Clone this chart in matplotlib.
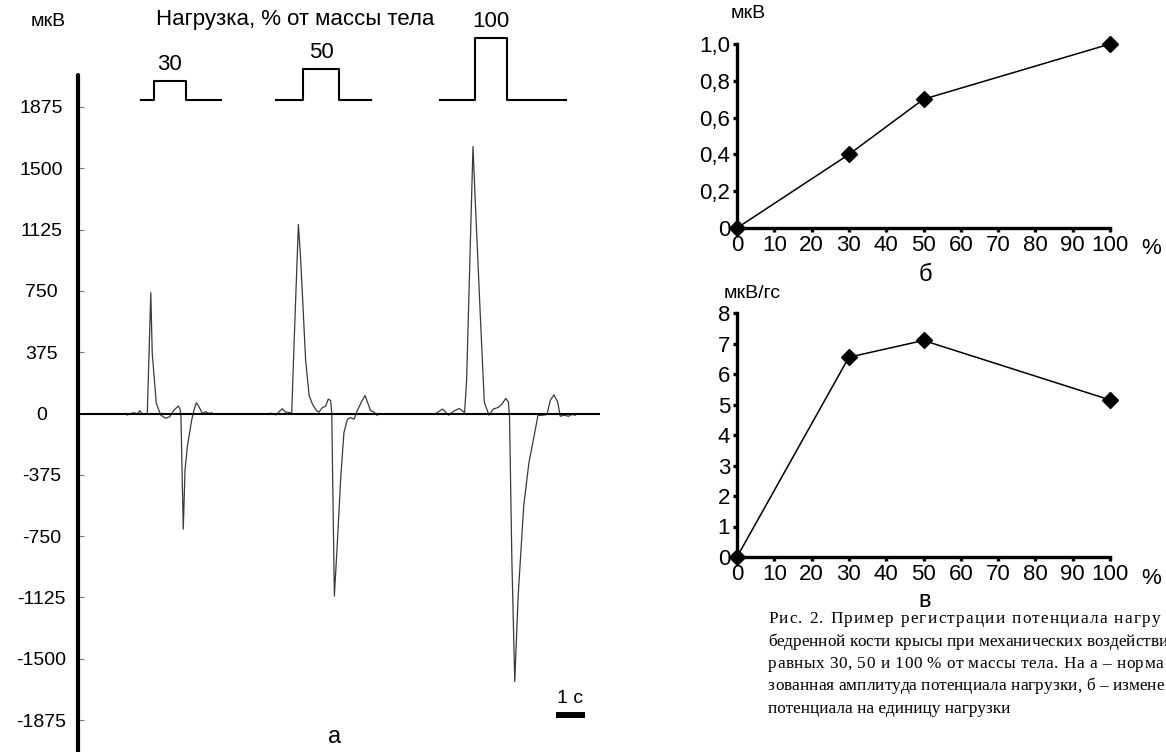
import numpy as np
import matplotlib.pyplot as plt

plt.rcParams['font.family'] = ['Liberation Sans', 'DejaVu Sans']

# --- panel a: potential traces (time in s, amplitude in мкВ) ---
t1 = [1.70, 1.82, 1.93, 2.04, 2.13, 2.22, 2.39, 2.51, 2.56, 2.70, 2.85, 3.02, 3.16, 3.31,
      3.46, 3.52, 3.55, 3.63, 3.69, 3.77, 3.92, 4.00, 4.08, 4.17, 4.29, 4.40, 4.52, 4.61]
v1 = [-9, 0, 5, -3, 17, -3, 0, 739, 368, 62, -9, -29, -20, 21,
      46, 26, -20, -708, -346, -203, -40, 21, 66, 42, 0, 11, 0, 5]
t2 = [6.64, 6.82, 6.96, 7.04, 7.16, 7.37, 7.45, 7.60, 7.68, 7.85, 7.97, 8.08, 8.22, 8.31,
      8.42, 8.54, 8.63, 8.71, 8.75, 8.84, 8.94, 9.06, 9.17, 9.29, 9.40, 9.52, 9.63, 9.80,
      9.90, 9.98, 10.09, 10.21, 10.32]
v2 = [2, -8, 15, 29, 8, 4, 426, 1156, 936, 324, 110, 59, 18, 8,
      35, 45, 88, 80, 4, -1117, -800, -392, -117, -35, -25, -35, 18, 80,
      110, 70, 18, 8, -12]
t3 = [12.29, 12.57, 12.78, 12.97, 13.15, 13.33, 13.40, 13.62, 13.70, 13.89, 14.01, 14.17,
      14.32, 14.50, 14.63, 14.75, 14.84, 14.88, 14.96, 15.06, 15.18, 15.37, 15.55, 15.74,
      15.86, 16.04, 16.17, 16.29, 16.41, 16.54, 16.63, 16.76, 16.91, 17.03, 17.15]
v3 = [-6, 27, -10, 16, 31, 5, 202, 1633, 1294, 530, 71, -10,
      27, 38, 60, 92, 71, -17, -887, -1640, -1109, -563, -300, -126,
      -12, -10, -6, 82, 114, 71, -17, -10, -17, -6, -10]
yticks_a = [1875, 1500, 1125, 750, 375, 0, -375, -750, -1125, -1500, -1875]

# load steps shown above the traces
load_pct = [30, 50, 100]
load_start = [2.17, 6.83, 12.48]
load_on = [2.62, 7.76, 13.69]
load_off = [3.72, 9.00, 14.79]
load_end = [4.93, 10.10, 16.83]

# --- panels б and в ---
load_x = [0, 30, 50, 100]
amp_norm = [0, 0.4, 0.7, 1.0]
amp_per_load = [0, 6.55, 7.1, 5.15]
xticks_r = list(range(0, 101, 10))

# caption lines (the page crops them on the right)
caption = [
    'Рис. 2. Пример регистрации потенциала нагру',
    'бедренной кости крысы при механических воздействи',
    'равных 30, 50 и 100 % от массы тела. На а – норма',
    'зованная амплитуда потенциала нагрузки, б – измене',
    'потенциала на единицу нагрузки',
]
caption_end = [1160, 1164, 1163, 1164, None]

W, H = 1166, 752
fig = plt.figure(figsize=(W / 100, H / 100), dpi=100)


def fx(x):
    return x / W


def fy(y):
    return 1 - y / H


FS = 14
FS_R = 16

# panel a
ax = fig.add_axes([fx(78), 0, fx(600) - fx(78), 1])
ax.set_xlim(0, (600 - 78) / 29)
ax.set_ylim((413.5 - 752) * 6.117, 413.5 * 6.117)
for t, v in [(t1, v1), (t2, v2), (t3, v3)]:
    ax.plot(t, v, color='#3a3a3a', lw=0.9)
ax.axhline(0, color='black', lw=1.5)
for s in ['top', 'right', 'bottom']:
    ax.spines[s].set_visible(False)
ax.spines['left'].set_linewidth(3)
ax.spines['left'].set_bounds(-2100, 2071)
ax.spines['left'].set_capstyle('round')
ax.set_xticks([])
ax.set_yticks(yticks_a)
ax.set_yticklabels([str(v) for v in yticks_a])
ax.tick_params(axis='y', direction='in', length=4, width=0.8, color='#777777',
               labelsize=FS, pad=26.5)
for lab in ax.get_yticklabels():
    lab.set_horizontalalignment('center')
# scale bar 1 c
ax.plot([16.48, 17.48], [-1844, -1844], color='black', lw=4.3, solid_capstyle='butt')
ax.text(16.98, -1745, '1 с', ha='center', va='center', fontsize=14)

# load step schematic
axl = fig.add_axes([fx(78), fy(130), fx(600) - fx(78), 130 / H])
axl.set_xlim(0, (600 - 78) / 29)
axl.set_ylim((100 - 130) / 0.62, 100 / 0.62)
axl.axis('off')
for p, a, b, c, d in zip(load_pct, load_start, load_on, load_off, load_end):
    axl.plot([a, b, b, c, c, d], [0, 0, p, p, 0, 0], color='black', lw=1.5,
             clip_on=False)
    axl.annotate(str(p), ((b + c) / 2, p), xytext=(0, 12), textcoords='offset points',
                 ha='center', va='center', fontsize=16)

fig.text(fx(48), fy(22), 'мкВ', ha='center', va='center', fontsize=FS)
fig.text(fx(295), fy(20), 'Нагрузка, % от массы тела', ha='center', va='center',
         fontsize=16)
fig.text(fx(335), fy(737), 'а', ha='center', va='center', fontsize=17)


def right_panel(rect, y, yticks, ylabels, ymax):
    a = fig.add_axes(rect)
    a.plot(load_x, y, color='black', lw=1.1, marker='D', ms=8, clip_on=False, zorder=3)
    a.set_xlim(0, 100)
    a.set_ylim(0, ymax)
    a.spines['top'].set_visible(False)
    a.spines['right'].set_visible(False)
    for s in ['left', 'bottom']:
        a.spines[s].set_linewidth(2.4)
    a.set_xticks(xticks_r)
    a.set_xticklabels([str(v) for v in xticks_r])
    a.set_yticks(yticks)
    a.set_yticklabels(ylabels)
    a.tick_params(direction='out', length=3, width=2.4, labelsize=FS_R, pad=2)
    return a


right_panel([fx(737), fy(228), fx(1110) - fx(737), 184 / H], amp_norm,
            [0, 0.2, 0.4, 0.6, 0.8, 1.0], ['0', '0,2', '0,4', '0,6', '0,8', '1,0'], 1.0)
right_panel([fx(737), fy(557), fx(1110) - fx(737), 244 / H], amp_per_load,
            list(range(9)), [str(v) for v in range(9)], 8)

fig.text(fx(748), fy(14), 'мкВ', ha='center', va='center', fontsize=FS)
fig.text(fx(1151), fy(249), '%', ha='center', va='center', fontsize=FS_R)
fig.text(fx(925), fy(275), 'б', ha='center', va='center', fontsize=17)
fig.text(fx(752), fy(294), 'мкВ/гс', ha='center', va='center', fontsize=FS)
fig.text(fx(1151), fy(578), '%', ha='center', va='center', fontsize=FS_R)
fig.text(fx(925), fy(601), 'в', ha='center', va='center', fontsize=17)

# caption; justified lines are spread letter by letter to the right edge
cap_kw = dict(fontsize=12.4, family=['Liberation Serif', 'DejaVu Serif'])
renderer = fig.canvas.get_renderer()
probe = fig.text(0, 0, '|', **cap_kw)
bar_w = probe.get_window_extent(renderer).width


def prefix_width(s):
    probe.set_text(s + '|')
    return probe.get_window_extent(renderer).width - bar_w


for k, (line, end) in enumerate(zip(caption, caption_end)):
    y = fy(619 + k * 22.5)
    if end is None:
        fig.text(fx(768), y, line, ha='left', va='center', **cap_kw)
        continue
    gap = max(0.0, (end - 768 - prefix_width(line)) / (len(line) - 1))
    for i, ch in enumerate(line):
        if ch != ' ':
            fig.text(fx(768 + prefix_width(line[:i]) + i * gap), y, ch,
                     ha='left', va='center', **cap_kw)
probe.remove()

fig.savefig('out.png', dpi=100)
